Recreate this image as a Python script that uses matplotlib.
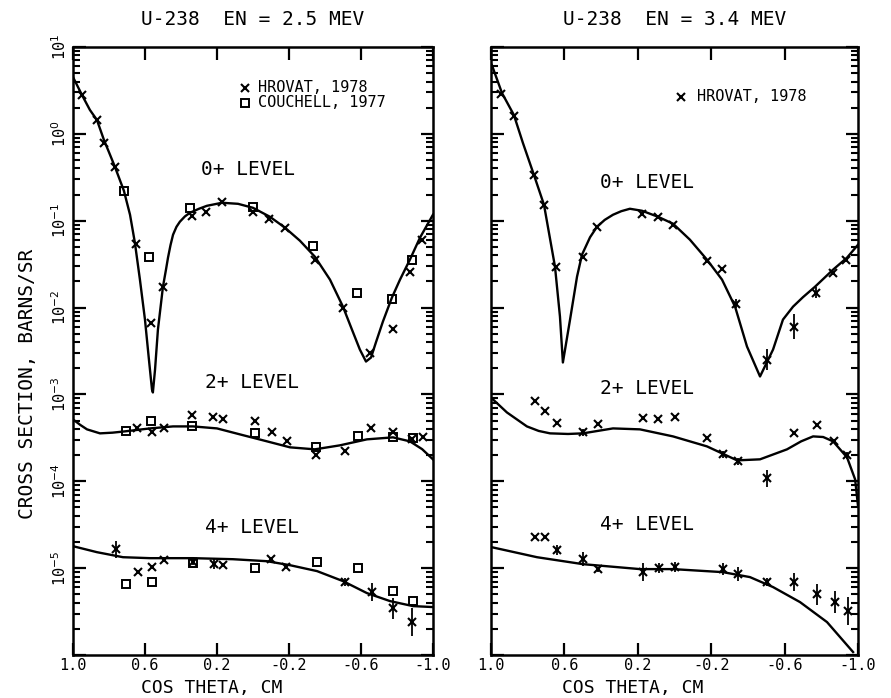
import numpy as np
import matplotlib
matplotlib.use('Agg')
import matplotlib.pyplot as plt
from matplotlib.ticker import FixedLocator, NullFormatter

plt.rc('font', size=11, family='DejaVu Sans Mono')
plt.rc('mathtext', fontset='dejavusans')

# ---- EN = 2.5 MeV (values are log10 of cross section) ----
# 0+ level, calculated curve
c25_0_cos = [1.0, 0.95, 0.906, 0.867, 0.828, 0.794, 0.767, 0.717, 0.683, 0.656, 0.628, 0.6,
             0.578, 0.561, 0.556, 0.544, 0.528, 0.5, 0.483, 0.472, 0.458, 0.444, 0.425, 0.406,
             0.378, 0.35, 0.3, 0.256, 0.172, 0.083, 0.0, -0.094, -0.178, -0.261, -0.344, -0.428,
             -0.5, -0.55, -0.594, -0.628, -0.656, -0.683, -0.722, -0.772, -0.817, -0.872,
             -0.928, -1.0]
c25_0_log = [0.655, 0.448, 0.276, 0.161, -0.069, -0.241, -0.379, -0.655, -0.931, -1.253, -1.678,
             -2.138, -2.598, -2.943, -2.977, -2.713, -2.253, -1.759, -1.56, -1.425, -1.28,
             -1.161, -1.07, -1.011, -0.95, -0.908, -0.862, -0.828, -0.793, -0.805, -0.851,
             -0.954, -1.08, -1.23, -1.414, -1.678, -1.989, -2.253, -2.483, -2.621, -2.575,
             -2.402, -2.161, -1.885, -1.678, -1.448, -1.195, -0.931]
h25_0_cos = [0.95, 0.867, 0.828, 0.767, 0.65, 0.567, 0.5, 0.339, 0.261, 0.172, 0.0, -0.089,
             -0.178, -0.344, -0.5, -0.65, -0.778, -0.872, -0.939]
h25_0_log = [0.448, 0.161, -0.103, -0.379, -1.264, -2.172, -1.759, -0.943, -0.897, -0.782,
             -0.897, -0.977, -1.08, -1.448, -2.0, -2.517, -2.241, -1.586, -1.218]
k25_0_cos = [0.717, 0.578, 0.35, 0.0, -0.333, -0.578, -0.772, -0.883]
k25_0_log = [-0.655, -1.414, -0.851, -0.839, -1.287, -1.828, -1.897, -1.448]

# 2+ level
c25_2_cos = [1.0, 0.96, 0.922, 0.85, 0.78, 0.711, 0.572, 0.444, 0.333, 0.2, 0.072, -0.078,
             -0.206, -0.344, -0.483, -0.633, -0.778, -0.872, -0.94, -1.0]
c25_2_log = [-3.287, -3.35, -3.402, -3.448, -3.44, -3.425, -3.391, -3.368, -3.368, -3.391,
             -3.46, -3.54, -3.609, -3.632, -3.586, -3.517, -3.494, -3.54, -3.63, -3.747]
h25_2_cos = [0.644, 0.561, 0.494, 0.339, 0.222, 0.167, -0.011, -0.106, -0.189, -0.35, -0.511,
             -0.656, -0.778, -0.883, -0.944]
h25_2_log = [-3.391, -3.437, -3.391, -3.241, -3.264, -3.287, -3.31, -3.437, -3.54, -3.701,
             -3.655, -3.391, -3.437, -3.517, -3.494]
k25_2_cos = [0.706, 0.567, 0.339, -0.011, -0.35, -0.583, -0.778, -0.889]
k25_2_log = [-3.425, -3.31, -3.368, -3.448, -3.609, -3.483, -3.494, -3.506]

# 4+ level
c25_4_cos = [1.0, 0.867, 0.722, 0.572, 0.333, 0.111, -0.078, -0.206, -0.356, -0.5, -0.633,
             -0.761, -0.889, -1.0]
c25_4_log = [-4.747, -4.816, -4.874, -4.885, -4.885, -4.897, -4.92, -4.966, -5.034, -5.149,
             -5.287, -5.379, -5.437, -5.448]
h25_4_cos = [0.761, 0.639, 0.561, 0.494, 0.333, 0.217, 0.167, -0.1, -0.183, -0.511, -0.661,
             -0.778, -0.883]
h25_4_log = [-4.782, -5.046, -4.989, -4.908, -4.931, -4.954, -4.966, -4.897, -4.989, -5.161,
             -5.276, -5.46, -5.621]
h25_4_err = [0.1, 0.0, 0.0, 0.0, 0.03, 0.06, 0.0, 0.0, 0.0, 0.05, 0.1, 0.12, 0.16]
k25_4_cos = [0.706, 0.561, 0.333, -0.011, -0.356, -0.583, -0.778, -0.889]
k25_4_log = [-5.184, -5.161, -4.943, -5.0, -4.931, -5.0, -5.264, -5.379]

# ---- EN = 3.4 MeV ----
c34_0_cos = [0.995, 0.94, 0.875, 0.826, 0.766, 0.711, 0.651, 0.624, 0.608, 0.569, 0.531, 0.504,
             0.46, 0.422, 0.38, 0.335, 0.29, 0.243, 0.177, 0.09, 0.008, -0.084, -0.177, -0.259,
             -0.33, -0.395, -0.466, -0.537, -0.591, -0.646, -0.7, -0.766, -0.864, -0.94, -1.0]
c34_0_log = [0.793, 0.471, 0.218, -0.103, -0.471, -0.816, -1.529, -2.103, -2.632, -2.138,
             -1.644, -1.391, -1.19, -1.069, -0.99, -0.931, -0.89, -0.862, -0.885, -0.954,
             -1.034, -1.218, -1.448, -1.678, -1.989, -2.448, -2.793, -2.483, -2.138, -1.989,
             -1.88, -1.759, -1.563, -1.425, -1.276]
h34_0_cos = [0.946, 0.875, 0.766, 0.711, 0.646, 0.499, 0.422, 0.177, 0.09, 0.008, -0.177,
             -0.259, -0.335, -0.504, -0.651, -0.771, -0.864, -0.935]
h34_0_log = [0.46, 0.207, -0.471, -0.816, -1.529, -1.414, -1.069, -0.92, -0.954, -1.046, -1.46,
             -1.552, -1.954, -2.598, -2.218, -1.828, -1.598, -1.448]
h34_0_err = [0, 0, 0, 0, 0, 0, 0, 0, 0, 0, 0, 0, 0.05, 0.12, 0.14, 0.06, 0, 0]

c34_2_cos = [0.989, 0.913, 0.804, 0.74, 0.678, 0.58, 0.499, 0.335, 0.188, 0.008, -0.177,
             -0.341, -0.466, -0.613, -0.69, -0.755, -0.81, -0.864, -0.94, -0.984, -1.0]
c34_2_log = [-3.057, -3.207, -3.368, -3.42, -3.448, -3.455, -3.448, -3.391, -3.402, -3.483,
             -3.598, -3.759, -3.747, -3.632, -3.54, -3.483, -3.49, -3.54, -3.724, -3.977, -4.287]
h34_2_cos = [0.76, 0.706, 0.64, 0.499, 0.417, 0.172, 0.09, -0.003, -0.177, -0.264, -0.346,
             -0.504, -0.651, -0.777, -0.869, -0.94]
h34_2_log = [-3.08, -3.195, -3.333, -3.437, -3.345, -3.276, -3.287, -3.264, -3.506, -3.69,
             -3.77, -3.966, -3.448, -3.356, -3.54, -3.701]
h34_2_err = [0, 0, 0, 0.04, 0, 0, 0, 0, 0, 0.04, 0.04, 0.1, 0, 0, 0, 0.04]

c34_4_cos = [0.995, 0.749, 0.499, 0.188, 0.008, -0.264, -0.411, -0.537, -0.684, -0.831, -0.973]
c34_4_log = [-4.759, -4.874, -4.954, -5.011, -5.011, -5.046, -5.103, -5.218, -5.391, -5.621,
             -5.966]
h34_4_cos = [0.76, 0.706, 0.64, 0.499, 0.417, 0.172, 0.085, -0.003, -0.264, -0.346, -0.504,
             -0.651, -0.777, -0.875, -0.946]
h34_4_log = [-4.644, -4.644, -4.793, -4.897, -5.011, -5.046, -5.0, -4.989, -5.011, -5.069,
             -5.161, -5.161, -5.299, -5.391, -5.494]
h34_4_err = [0.0, 0.0, 0.06, 0.08, 0.03, 0.1, 0.06, 0.06, 0.07, 0.08, 0.05, 0.1, 0.12, 0.13, 0.16]

titles = ['U-238  EN = 2.5 MEV', 'U-238  EN = 3.4 MEV']
xtick_vals = [1.0, 0.6, 0.2, -0.2, -0.6, -1.0]
xtick_text = ['1.0', '0.6', '0.2', '-0.2', '-0.6', '-1.0']
decades = [1, 0, -1, -2, -3, -4, -5, -6]


def lin(a):
    return 10.0 ** np.asarray(a, dtype=float)


def errs(vals, dex):
    v = lin(vals)
    d = np.asarray(dex, dtype=float)
    return [v - v * 10 ** (-d), v * 10 ** d - v]


fig = plt.figure(figsize=(8.91, 6.98), dpi=100)
axL = fig.add_axes([0.0819, 0.0616, 0.404, 0.871])
axR = fig.add_axes([0.551, 0.0616, 0.412, 0.871])

xkw = dict(marker='x', ls='none', color='k', ms=6, mew=1.5)
skw = dict(marker='s', ls='none', mfc='none', mec='k', ms=6, mew=1.4)
lkw = dict(color='k', lw=1.7)
ekw = dict(ecolor='k', elinewidth=1.3, capsize=0)

# left panel
axL.plot(c25_0_cos, lin(c25_0_log), **lkw)
axL.plot(c25_2_cos, lin(c25_2_log), **lkw)
axL.plot(c25_4_cos, lin(c25_4_log), **lkw)
axL.plot(h25_0_cos, lin(h25_0_log), **xkw)
axL.plot(h25_2_cos, lin(h25_2_log), **xkw)
axL.errorbar(h25_4_cos, lin(h25_4_log), yerr=errs(h25_4_log, h25_4_err), **ekw, **xkw)
axL.plot(k25_0_cos, lin(k25_0_log), **skw)
axL.plot(k25_2_cos, lin(k25_2_log), **skw)
axL.plot(k25_4_cos, lin(k25_4_log), **skw)

# right panel
axR.plot(c34_0_cos, lin(c34_0_log), **lkw)
axR.plot(c34_2_cos, lin(c34_2_log), **lkw)
axR.plot(c34_4_cos, lin(c34_4_log), **lkw)
axR.errorbar(h34_0_cos, lin(h34_0_log), yerr=errs(h34_0_log, h34_0_err), **ekw, **xkw)
axR.errorbar(h34_2_cos, lin(h34_2_log), yerr=errs(h34_2_log, h34_2_err), **ekw, **xkw)
axR.errorbar(h34_4_cos, lin(h34_4_log), yerr=errs(h34_4_log, h34_4_err), **ekw, **xkw)

minor = [m * 10.0 ** d for d in range(-6, 1) for m in range(2, 10)]
for i, ax in enumerate([axL, axR]):
    ax.set_yscale('log')
    ax.set_xlim(1.0, -1.0)
    ax.set_ylim(1e-6, 1e1)
    ax.set_xticks(xtick_vals)
    ax.set_xticklabels(xtick_text)
    ax.yaxis.set_major_locator(FixedLocator([10.0 ** d for d in decades]))
    ax.yaxis.set_minor_locator(FixedLocator(minor))
    ax.yaxis.set_minor_formatter(NullFormatter())
    ax.tick_params(which='both', direction='in', top=True, right=True, width=1.6)
    ax.tick_params(which='major', length=9, pad=3, labelsize=12)
    ax.tick_params(axis='x', which='major', pad=2, labelsize=11)
    ax.tick_params(which='minor', length=5, width=1.5)
    for s in ax.spines.values():
        s.set_linewidth(1.8)
    ax.set_title(titles[i], fontsize=14, pad=16)
    ax.set_xlabel('COS THETA, CM', fontsize=13)
    ax.xaxis.set_label_coords(0.385, -0.04)

axL.set_yticklabels(['10$^{%d}$' % d if d > -6 else '' for d in decades],
                    rotation=90, va='center', fontsize=11)
axR.set_yticklabels([])
axL.set_ylabel('CROSS SECTION, BARNS/SR', fontsize=14)
axL.yaxis.set_label_coords(-0.1, 0.446)

# level labels
for ax, pos in [(axL, [(0.486, 0.798), (0.497, 0.449), (0.497, 0.209)]),
                (axR, [(0.425, 0.778), (0.425, 0.439), (0.425, 0.215)])]:
    for lab, (px, py) in zip(['0+ LEVEL', '2+ LEVEL', '4+ LEVEL'], pos):
        ax.text(px, py, lab, transform=ax.transAxes, ha='center', va='center', fontsize=14)

# legends
axL.plot([0.478], [0.933], transform=axL.transAxes, clip_on=False, **xkw)
axL.text(0.515, 0.933, 'HROVAT, 1978', transform=axL.transAxes, va='center', fontsize=11)
axL.plot([0.478], [0.908], transform=axL.transAxes, clip_on=False, **skw)
axL.text(0.515, 0.908, 'COUCHELL, 1977', transform=axL.transAxes, va='center', fontsize=11)
axR.plot([0.518], [0.918], transform=axR.transAxes, clip_on=False, **xkw)
axR.text(0.56, 0.918, 'HROVAT, 1978', transform=axR.transAxes, va='center', fontsize=11)

plt.savefig('out.png', dpi=100)
